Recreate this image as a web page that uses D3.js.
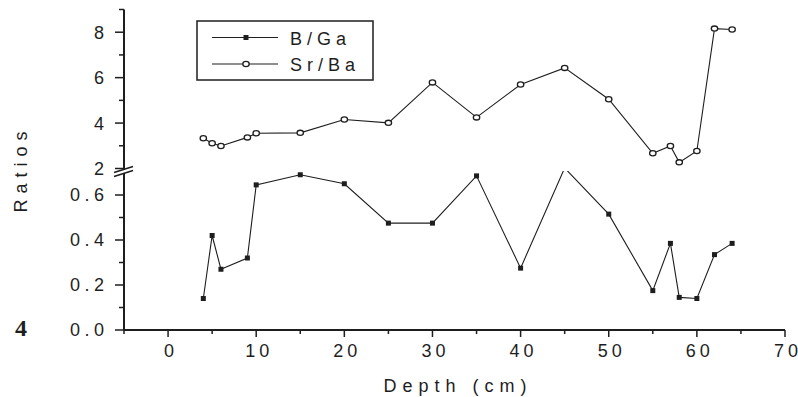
<!DOCTYPE html>
<html>
<head>
<meta charset="utf-8">
<script src="https://cdn.jsdelivr.net/npm/d3@7"></script>
<style>
  html, body { margin: 0; padding: 0; background: #fff; }
  svg { display: block; font-family: "Liberation Sans", Arial, sans-serif; }
</style>
</head>
<body>
<svg id="chart" width="798" height="397"></svg>
<script>
// depth (cm) of each sample
const depth = [4, 5, 6, 9, 10, 15, 20, 25, 30, 35, 40, 45, 50, 55, 57, 58, 60, 62, 64];
// B/Ga ratio (lower panel)
const bGa = [0.14, 0.42, 0.27, 0.32, 0.645, 0.69, 0.65, 0.475, 0.475, 0.685, 0.275, 0.72, 0.515, 0.175, 0.385, 0.145, 0.14, 0.335, 0.385];
// Sr/Ba ratio (upper panel)
const srBa = [3.33, 3.11, 2.99, 3.37, 3.55, 3.57, 4.16, 4.01, 5.79, 4.25, 5.70, 6.43, 5.05, 2.67, 2.99, 2.27, 2.77, 8.16, 8.12];

const xTicks = [0, 10, 20, 30, 40, 50, 60, 70];
const xMinor = [-5, 5, 15, 25, 35, 45, 55, 65];
const topTicks = [2, 4, 6, 8];
const topMinor = [3, 5, 7, 9];
const botTicks = [0, 0.2, 0.4, 0.6];
const botMinor = [0.1, 0.3, 0.5];

const ink = '#1e1e1e';
const svg = d3.select('#chart');

const x = d3.scaleLinear().domain([-5, 70]).range([124, 785]);
const yTop = d3.scaleLinear().domain([2, 9]).range([168.5, 9.5]);
const yBot = d3.scaleLinear().domain([0, 0.7]).range([330, 172.5]);

// widely spaced lettering, one tspan per character (no trailing gap)
function spaced(textSel, str, gap) {
  String(str).split('').forEach((ch, i) => {
    textSel.append('tspan').attr('dx', i ? gap : 0).text(ch);
  });
}

// clip for lower panel so the 45 cm peak is cut at the break
svg.append('clipPath').attr('id', 'clipBot')
  .append('rect')
  .attr('x', x.range()[0]).attr('y', yBot(0.7) - 1.5)
  .attr('width', x.range()[1] - x.range()[0])
  .attr('height', yBot(0) - yBot(0.7) + 10);

// x axis
const xAxis = svg.append('g').attr('transform', `translate(0,${yBot(0)})`);
xAxis.append('line')
  .attr('x1', x(-5)).attr('x2', x(70))
  .attr('stroke', ink).attr('stroke-width', 2);
xAxis.selectAll('.xt').data(xTicks).join('line')
  .attr('x1', d => x(d)).attr('x2', d => x(d))
  .attr('y1', 0).attr('y2', 7)
  .attr('stroke', ink).attr('stroke-width', 1.5);
xAxis.selectAll('.xm').data(xMinor).join('line')
  .attr('x1', d => x(d)).attr('x2', d => x(d))
  .attr('y1', 0).attr('y2', 4)
  .attr('stroke', ink).attr('stroke-width', 1.5);
xTicks.forEach(d => {
  const t = xAxis.append('text')
    .attr('x', x(d) + 1)
    .attr('y', 27)
    .attr('text-anchor', 'middle')
    .attr('font-size', 18)
    .attr('fill', ink);
  spaced(t, d, 4);
});

// y axis (two segments with a break)
const yAxis = svg.append('g');
yAxis.append('line')
  .attr('x1', x(-5)).attr('x2', x(-5))
  .attr('y1', yTop(9)).attr('y2', yBot(0))
  .attr('stroke', ink).attr('stroke-width', 2);

function yTicks(scale, major, minor, fmt) {
  yAxis.selectAll(null).data(major).join('line')
    .attr('x1', x(-5) - 9).attr('x2', x(-5))
    .attr('y1', d => scale(d)).attr('y2', d => scale(d))
    .attr('stroke', ink).attr('stroke-width', 1.5);
  yAxis.selectAll(null).data(minor).join('line')
    .attr('x1', x(-5) - 5).attr('x2', x(-5))
    .attr('y1', d => scale(d)).attr('y2', d => scale(d))
    .attr('stroke', ink).attr('stroke-width', 1.5);
  major.forEach(d => {
    const t = yAxis.append('text')
      .attr('x', x(-5) - 20)
      .attr('y', scale(d))
      .attr('dy', '0.36em')
      .attr('text-anchor', 'end')
      .attr('font-size', 18)
      .attr('fill', ink);
    spaced(t, fmt(d), 4.5);
  });
}
yTicks(yTop, topTicks, topMinor, d => d);
yTicks(yBot, botTicks, botMinor, d3.format('.1f'));

// break marks
const bx = x(-5), by = 169.5;
yAxis.append('polygon')
  .attr('points', `${bx - 10},${by + 3} ${bx + 9},${by - 3} ${bx + 9},${by + 1} ${bx - 10},${by + 7}`)
  .attr('fill', '#fff');
yAxis.selectAll(null).data([0, 4]).join('line')
  .attr('x1', bx - 10).attr('y1', d => by + 3 + d)
  .attr('x2', bx + 9).attr('y2', d => by - 3 + d)
  .attr('stroke', ink).attr('stroke-width', 1.5);

// series
const lineTop = d3.line().x((d, i) => x(depth[i])).y(d => yTop(d));
const lineBot = d3.line().x((d, i) => x(depth[i])).y(d => yBot(d));

svg.append('path').datum(srBa)
  .attr('d', lineTop)
  .attr('fill', 'none').attr('stroke', ink).attr('stroke-width', 1.1);
svg.selectAll('.sr').data(srBa).join('ellipse')
  .attr('cx', (d, i) => x(depth[i])).attr('cy', d => yTop(d))
  .attr('rx', 3.2).attr('ry', 2.6)
  .attr('fill', '#fff').attr('stroke', ink).attr('stroke-width', 1.3);

const gBot = svg.append('g').attr('clip-path', 'url(#clipBot)');
gBot.append('path').datum(bGa)
  .attr('d', lineBot)
  .attr('fill', 'none').attr('stroke', ink).attr('stroke-width', 1.1);

function crossMark(sel, cx, cy) {
  sel.append('rect')
    .attr('x', cx - 2.5).attr('y', cy - 2.5)
    .attr('width', 5).attr('height', 5)
    .attr('fill', ink);
}
bGa.forEach((d, i) => crossMark(gBot, x(depth[i]), yBot(d)));

// legend
const lg = svg.append('g');
lg.append('rect')
  .attr('x', 197).attr('y', 21).attr('width', 176).attr('height', 59)
  .attr('fill', '#fff').attr('stroke', ink).attr('stroke-width', 1.5);
const legendItems = ['B/Ga', 'Sr/Ba'];
legendItems.forEach((name, i) => {
  const ly = 37.5 + i * 26.5;
  lg.append('line')
    .attr('x1', 212).attr('x2', 278).attr('y1', ly).attr('y2', ly)
    .attr('stroke', ink).attr('stroke-width', 1.1);
  if (i === 0) crossMark(lg, 246, ly);
  else lg.append('ellipse').attr('cx', 246).attr('cy', ly)
    .attr('rx', 3.2).attr('ry', 2.6)
    .attr('fill', '#fff').attr('stroke', ink).attr('stroke-width', 1.3);
  const t = lg.append('text')
    .attr('x', 290).attr('y', ly + 7)
    .attr('font-size', 18)
    .attr('fill', ink);
  spaced(t, name, 5);
});

// axis titles
const yTitle = svg.append('text')
  .attr('transform', 'translate(27,172) rotate(-90)')
  .attr('text-anchor', 'middle')
  .attr('font-size', 18)
  .attr('fill', ink);
spaced(yTitle, 'Ratios', 6);
const xTitle = svg.append('text')
  .attr('x', 455).attr('y', 392)
  .attr('text-anchor', 'middle')
  .attr('font-size', 18)
  .attr('fill', ink);
spaced(xTitle, 'Depth (cm)', 6);

// panel number
svg.append('text')
  .attr('x', 15).attr('y', 336)
  .attr('font-family', '"Liberation Serif", "DejaVu Serif", serif')
  .attr('font-weight', 'bold')
  .attr('font-size', 24)
  .attr('fill', ink)
  .text('4');
</script>
</body>
</html>
